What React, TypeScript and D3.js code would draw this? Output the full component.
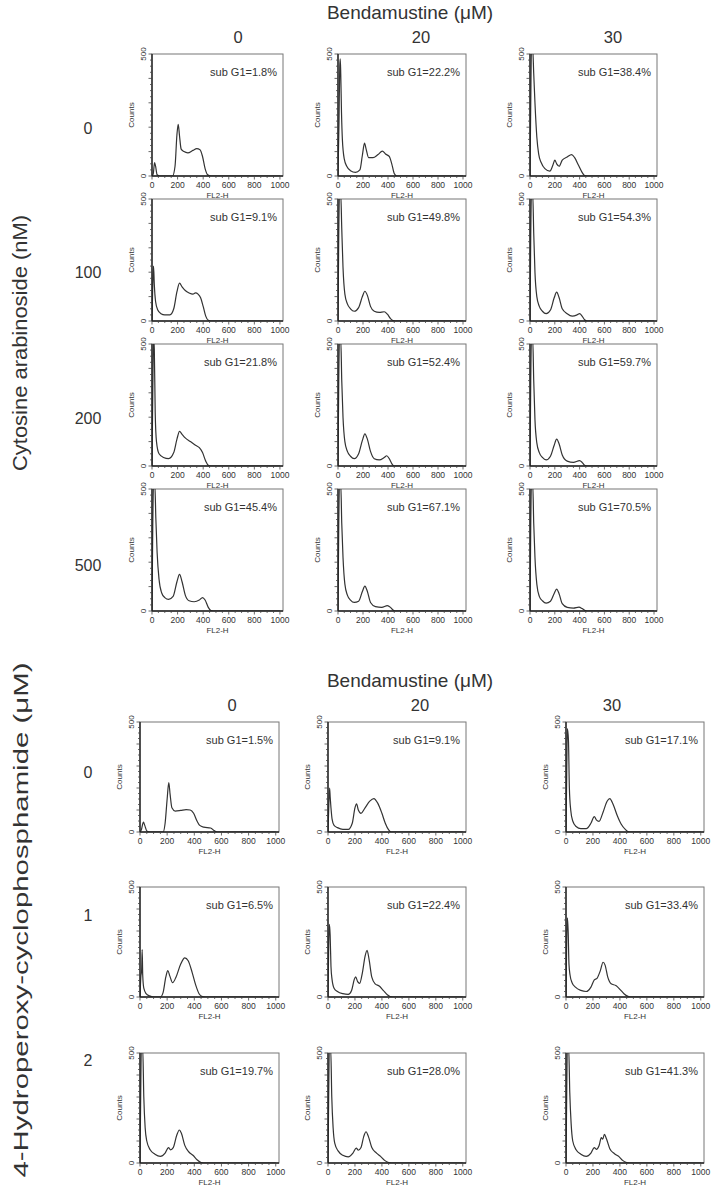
import * as d3 from 'd3';

// ---- labels ----
const bendaDoses = ['0', '20', '30'];
const araCDoses = ['0', '100', '200', '500'];
const hcDoses = ['0', '1', '2'];

const araCSubG1 = [
  ['1.8', '22.2', '38.4'],
  ['9.1', '49.8', '54.3'],
  ['21.8', '52.4', '59.7'],
  ['45.4', '67.1', '70.5'],
];
const hcSubG1 = [
  ['1.5', '9.1', '17.1'],
  ['6.5', '22.4', '33.4'],
  ['19.7', '28.0', '41.3'],
];

type Pt = [number, number];

// ---- histograms, [FL2-H channel, counts] ----
// Ara-C 0 nM
const ara0_b0: Pt[] = [[0,0],[10,10],[20,55],[28,40],[40,5],[60,0],[160,0],[180,40],[195,170],[205,212],[215,165],[228,110],[250,100],[280,95],[320,105],[350,112],[375,108],[395,80],[415,30],[435,5],[460,0],[1000,0]];
const ara0_b20: Pt[] = [[0,0],[8,220],[14,450],[18,480],[22,420],[28,260],[35,150],[50,70],[70,40],[100,22],[140,15],[175,25],[195,85],[212,135],[225,110],[245,75],[280,75],[320,88],[355,102],[380,90],[410,80],[430,50],[450,10],[470,0],[1000,0]];
const ara0_b30: Pt[] = [[0,0],[6,300],[12,520],[22,520],[30,420],[40,300],[55,160],[70,90],[90,55],[120,30],[160,20],[185,45],[200,65],[215,50],[235,40],[260,65],[300,78],[335,88],[360,75],[390,45],[420,15],[440,2],[460,0],[1000,0]];
// Ara-C 100 nM
const ara100_b0: Pt[] = [[0,0],[6,150],[12,225],[18,150],[28,80],[45,45],[70,30],[100,25],[140,25],[170,50],[195,120],[215,155],[235,140],[260,125],[290,115],[320,110],[340,115],[360,110],[380,95],[400,60],[420,20],[440,3],[460,0],[1000,0]];
const ara100_b20: Pt[] = [[0,0],[6,350],[12,520],[22,520],[30,380],[40,220],[55,110],[75,70],[100,50],[130,40],[165,55],[195,100],[215,122],[235,105],[260,60],[290,40],[330,35],[370,38],[395,28],[420,10],[440,2],[460,0],[1000,0]];
const ara100_b30: Pt[] = [[0,0],[6,350],[12,520],[22,520],[30,360],[40,200],[55,100],[75,60],[100,40],[130,30],[165,45],[195,95],[215,118],[235,95],[260,50],[300,30],[340,20],[380,25],[400,30],[420,20],[440,5],[460,0],[1000,0]];
// Ara-C 200 nM
const ara200_b0: Pt[] = [[0,0],[6,300],[12,520],[18,480],[25,220],[35,100],[55,50],[90,35],[130,30],[170,55],[195,110],[215,142],[235,130],[260,115],[300,100],[340,85],[370,75],[395,55],[420,20],[440,3],[460,0],[1000,0]];
const ara200_b20: Pt[] = [[0,0],[6,350],[12,520],[22,520],[30,350],[40,200],[55,100],[75,60],[100,40],[130,30],[165,50],[195,105],[215,132],[235,110],[260,60],[290,30],[330,25],[370,35],[390,42],[410,30],[430,10],[450,0],[1000,0]];
const ara200_b30: Pt[] = [[0,0],[6,350],[12,520],[22,520],[30,350],[40,190],[55,95],[75,55],[100,35],[130,25],[165,40],[195,85],[215,110],[235,90],[260,45],[300,20],[350,15],[400,22],[420,15],[440,3],[460,0],[1000,0]];
// Ara-C 500 nM
const ara500_b0: Pt[] = [[0,0],[6,350],[12,520],[22,520],[30,380],[40,240],[55,130],[75,75],[100,55],[130,48],[165,60],[195,120],[215,150],[235,120],[260,65],[290,42],[330,38],[370,45],[395,55],[415,45],[440,15],[460,2],[480,0],[1000,0]];
const ara500_b20: Pt[] = [[0,0],[6,350],[12,520],[22,520],[30,360],[40,220],[55,110],[75,65],[100,45],[130,35],[165,40],[195,80],[215,102],[235,80],[260,35],[300,18],[350,15],[395,22],[420,15],[440,4],[460,0],[1000,0]];
const ara500_b30: Pt[] = [[0,0],[6,350],[12,520],[22,520],[30,360],[40,220],[55,110],[75,60],[100,42],[130,32],[165,40],[195,72],[215,90],[235,70],[260,30],[300,15],[350,12],[395,16],[420,10],[440,3],[460,0],[1000,0]];

// 4-HC 0 uM
const hc0_b0: Pt[] = [[0,0],[10,10],[25,45],[35,30],[50,5],[70,0],[170,0],[185,40],[200,150],[212,225],[222,170],[235,110],[260,95],[300,98],[340,102],[370,100],[395,85],[420,50],[440,30],[470,22],[520,18],[550,5],[570,0],[1000,0]];
const hc0_b20: Pt[] = [[0,0],[6,120],[12,200],[16,160],[22,110],[30,60],[45,30],[70,20],[110,12],[150,12],[180,40],[200,110],[212,128],[225,100],[245,85],[275,110],[310,140],[340,152],[370,130],[400,85],[425,40],[450,10],[470,0],[1000,0]];
const hc0_b30: Pt[] = [[0,0],[5,250],[10,470],[18,420],[25,200],[35,100],[50,50],[75,25],[110,15],[150,15],[185,40],[210,70],[225,55],[245,48],[275,90],[305,140],[325,152],[350,125],[380,75],[410,35],[440,12],[470,0],[1000,0]];
// 4-HC 1 uM
const hc1_b0: Pt[] = [[0,0],[6,90],[12,120],[16,215],[20,100],[28,40],[45,15],[70,5],[100,0],[150,0],[170,20],[190,90],[205,120],[220,95],[240,65],[265,90],[300,150],[330,178],[355,165],[385,110],[410,55],[435,15],[460,2],[480,0],[1000,0]];
const hc1_b20: Pt[] = [[0,0],[5,230],[10,330],[16,280],[22,140],[30,80],[45,40],[70,25],[110,15],[150,12],[175,30],[195,80],[205,92],[220,70],[235,62],[255,110],[275,185],[290,212],[305,170],[325,90],[350,60],[380,50],[410,30],[440,10],[460,2],[480,0],[1000,0]];
const hc1_b30: Pt[] = [[0,0],[5,250],[10,360],[16,300],[22,150],[30,100],[45,65],[70,45],[110,30],[150,25],[185,45],[210,78],[230,85],[255,120],[275,158],[290,145],[310,90],[335,60],[370,52],[400,35],[430,15],[460,3],[480,0],[1000,0]];
// 4-HC 2 uM
const hc2_b0: Pt[] = [[0,0],[5,300],[10,520],[20,520],[28,300],[38,160],[50,100],[75,60],[110,40],[150,30],[185,45],[210,70],[225,60],[245,70],[270,125],[290,150],[305,135],[330,80],[360,50],[390,35],[420,15],[450,2],[470,0],[1000,0]];
const hc2_b20: Pt[] = [[0,0],[5,300],[10,520],[20,520],[28,300],[38,160],[50,90],[75,55],[110,35],[150,28],[185,45],[210,68],[225,58],[245,70],[265,120],[282,142],[300,120],[325,70],[360,45],[390,30],[420,12],[450,2],[470,0],[1000,0]];
const hc2_b30: Pt[] = [[0,0],[5,300],[10,520],[20,520],[28,320],[38,180],[50,100],[75,60],[110,40],[150,30],[185,45],[210,70],[225,62],[245,78],[262,115],[272,108],[285,130],[300,110],[325,65],[360,42],[395,28],[420,12],[450,2],[470,0],[1000,0]];

const araCHists = [
  [ara0_b0, ara0_b20, ara0_b30],
  [ara100_b0, ara100_b20, ara100_b30],
  [ara200_b0, ara200_b20, ara200_b30],
  [ara500_b0, ara500_b20, ara500_b30],
];
const hcHists = [
  [hc0_b0, hc0_b20, hc0_b30],
  [hc1_b0, hc1_b20, hc1_b30],
  [hc2_b0, hc2_b20, hc2_b30],
];

const FONT = 'Liberation Sans, Arial, Helvetica, sans-serif';

function Panel({ left, top, w, h, hist, subG1, id }: any) {
  const x = d3.scaleLinear().domain([0, 1024]).range([left, left + w]);
  const y = d3.scaleLinear().domain([0, 500]).range([top + h, top]);
  const line = d3.line<Pt>().x(d => x(d[0])).y(d => y(d[1])).curve(d3.curveMonotoneX);
  const xMinor = d3.range(0, 1001, 50);
  const xMajor = [0, 200, 400, 600, 800, 1000];
  const yMinor = d3.range(0, 501, 25);
  const bottom = top + h;
  return (
    <g fontFamily={FONT}>
      <defs>
        <clipPath id={id}><rect x={left} y={top} width={w} height={h} /></clipPath>
      </defs>
      <rect x={left} y={top} width={w} height={h} fill="#fff" stroke="#777" strokeWidth={1} />
      <path d={line(hist) || ''} fill="none" stroke="#333" strokeWidth={1.2} clipPath={`url(#${id})`} />
      <line x1={left} x2={left} y1={top} y2={bottom} stroke="#222" strokeWidth={1.4} />
      <line x1={left} x2={left + w} y1={bottom} y2={bottom} stroke="#222" strokeWidth={1.4} />
      {yMinor.map(v => (
        <line key={'y' + v} x1={left} x2={left - (v % 100 === 0 ? 3.5 : 2)} y1={y(v)} y2={y(v)} stroke="#444" strokeWidth={0.8} />
      ))}
      {xMinor.map(v => (
        <line key={'x' + v} x1={x(v)} x2={x(v)} y1={bottom} y2={bottom + (v % 200 === 0 ? 3.5 : 2)} stroke="#444" strokeWidth={0.8} />
      ))}
      {[0, 500].map(v => (
        <text key={'yl' + v} transform={`translate(${left - 6},${y(v)}) rotate(-90)`} textAnchor="middle" fontSize={8} fill="#333">{v}</text>
      ))}
      <text transform={`translate(${left - 18},${top + h / 2}) rotate(-90)`} textAnchor="middle" fontSize={8} fill="#333">Counts</text>
      {xMajor.map(v => (
        <text key={'xl' + v} x={x(v)} y={bottom + 12} textAnchor="middle" fontSize={8.5} fill="#333">{v}</text>
      ))}
      <text x={left + w / 2} y={bottom + 22} textAnchor="middle" fontSize={8} fill="#333">FL2-H</text>
      <text x={left + w - 6} y={top + 22} textAnchor="end" fontSize={11} fill="#333">{`sub G1=${subG1}%`}</text>
    </g>
  );
}

// layout
const topColLeft = [152, 338, 530];
const topColW = [131, 128, 127];
const topHeadX = [238, 421, 613];
const topRowTop = [54, 199, 344, 489];
const topH = 122;
const topRowLabelY = [128, 272, 418, 565];

const botColLeft = [140, 328, 566];
const botColW = [139, 138, 138];
const botHeadX = [232, 420, 612];
const botRowTop = [722, 887, 1053];
const botH = 110;
const botRowLabelY = [772, 915, 1060];

export default function App() {
  const title = 'Bendamustine (\u03bcM)';
  return (
    <svg width={715} height={1192} style={{ display: 'block', position: 'absolute', left: 0, top: 0, background: '#fff' }} fontFamily={FONT}>
      <rect width={715} height={1192} fill="#fff" />
      {/* top block */}
      <text x={410} y={19} textAnchor="middle" fontSize={19} fill="#333">{title}</text>
      {bendaDoses.map((d, j) => (
        <text key={'th' + j} x={topHeadX[j]} y={43} textAnchor="middle" fontSize={16.5} fill="#333">{d}</text>
      ))}
      <text transform={`translate(27,343) rotate(-90)`} textAnchor="middle" fontSize={20} fill="#333" textLength={256} lengthAdjust="spacingAndGlyphs">Cytosine arabinoside (nM)</text>
      {araCDoses.map((d, i) => (
        <text key={'tr' + i} x={88} y={topRowLabelY[i] + 6} textAnchor="middle" fontSize={16} fill="#333">{d}</text>
      ))}
      {araCHists.map((row, i) => row.map((hist, j) => (
        <Panel key={`t${i}${j}`} id={`ct${i}${j}`} left={topColLeft[j]} top={topRowTop[i]} w={topColW[j]} h={topH} hist={hist} subG1={araCSubG1[i][j]} />
      )))}
      {/* bottom block */}
      <text x={410} y={687} textAnchor="middle" fontSize={19} fill="#333">{title}</text>
      {bendaDoses.map((d, j) => (
        <text key={'bh' + j} x={botHeadX[j]} y={711} textAnchor="middle" fontSize={16.5} fill="#333">{d}</text>
      ))}
      <text transform={`translate(28,920) rotate(-90)`} textAnchor="middle" fontSize={21} fill="#333" textLength={515} lengthAdjust="spacingAndGlyphs">4-Hydroperoxy-cyclophosphamide ({'\u03bc'}M)</text>
      {hcDoses.map((d, i) => (
        <text key={'br' + i} x={88} y={botRowLabelY[i] + 6} textAnchor="middle" fontSize={16} fill="#333">{d}</text>
      ))}
      {hcHists.map((row, i) => row.map((hist, j) => (
        <Panel key={`b${i}${j}`} id={`cb${i}${j}`} left={botColLeft[j]} top={botRowTop[i]} w={botColW[j]} h={botH} hist={hist} subG1={hcSubG1[i][j]} />
      )))}
    </svg>
  );
}
